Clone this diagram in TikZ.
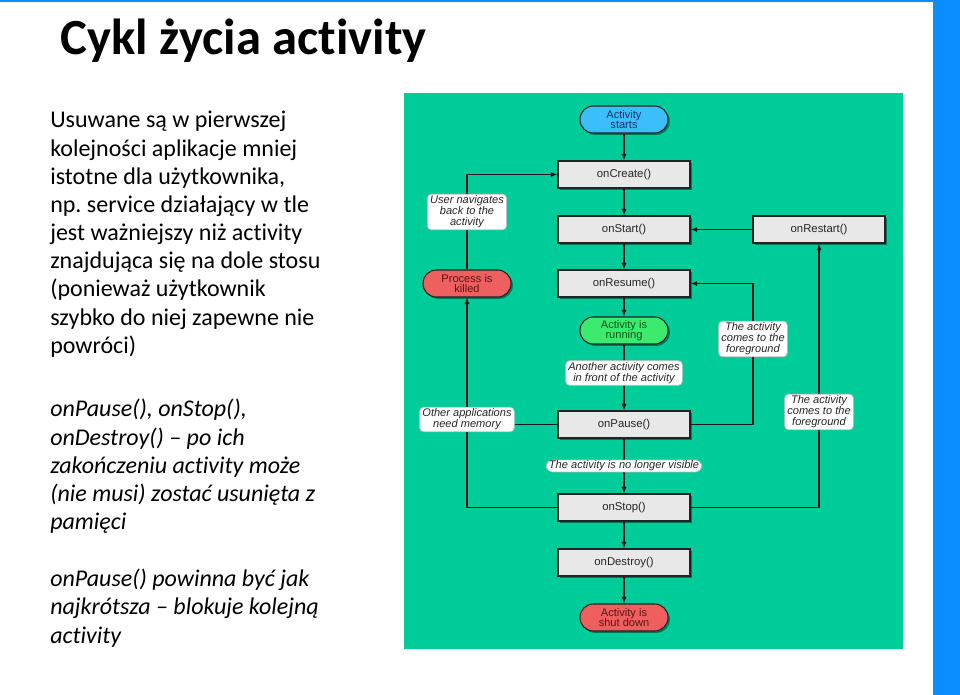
\documentclass[tikz,border=0pt]{standalone}
\usepackage{fontspec}
\setmainfont{Carlito}[Ligatures=NoCommon]
\newfontfamily\diag{Liberation Sans}
\usetikzlibrary{arrows.meta,shadows}
\definecolor{bgc}{RGB}{0,204,153}
\definecolor{bluebar}{RGB}{10,142,255}
\definecolor{startc}{RGB}{60,190,250}
\definecolor{runc}{RGB}{60,235,110}
\definecolor{killc}{RGB}{238,95,95}
\definecolor{boxc}{RGB}{232,232,232}
\definecolor{edgec}{RGB}{35,35,35}
\frenchspacing
\begin{document}
\begin{tikzpicture}[x=0.75pt,y=-0.75pt,
  shad/.style={drop shadow={shadow xshift=1.4pt,shadow yshift=-1.4pt,opacity=0.4,fill=black}},
  method/.style={shad,draw=edgec,line width=0.8pt,fill=boxc,minimum width=99pt,minimum height=20.25pt,inner sep=0pt,font=\diag\fontsize{8.5}{9}\selectfont,text=black!85},
  pill/.style={shad,draw=edgec,line width=0.8pt,minimum width=66pt,minimum height=20.25pt,rounded corners=10pt,inner sep=0pt,align=center,font=\diag\fontsize{8.3}{7.9}\selectfont},
  note/.style={draw=black!25,line width=0.5pt,fill=white,rounded corners=3pt,inner xsep=2pt,inner ysep=1.2pt,align=center,font=\diag\itshape\fontsize{8.3}{8.3}\selectfont,text=black!85},
  arr/.style={draw=black!90,line width=0.9pt,-{Latex[length=5pt,width=4pt]}},
  ln/.style={draw=black!90,line width=0.9pt},
  body/.style={anchor=base west,inner sep=0pt,font=\fontsize{18}{21.6}\selectfont}
]
\useasboundingbox (0,0) rectangle (960,695);
\fill[white] (0,0) rectangle (960,695);
\fill[bluebar] (0,0) rectangle (960,2);
\fill[bluebar] (933,0) rectangle (960,695);
\fill[bgc] (404,93) rectangle (903,649);

\node[anchor=base west,inner sep=0pt,font=\bfseries\fontsize{38}{46}\selectfont] (title) at (60,55) {Cykl życia activity};

\foreach \t [count=\i] in {{Usuwane są w pierwszej},{kolejności aplikacje mniej},{istotne dla użytkownika,},{np. service działający w tle},{jest ważniejszy niż activity},{znajdująca się na dole stosu},{(ponieważ użytkownik},{szybko do niej zapewne nie},{powróci)}}
  \node[body] (a\i) at (50,{128+(\i-1)*28.15}) {\t};
\foreach \t [count=\i] in {{onPause(), onStop(),},{onDestroy() – po ich},{zakończeniu activity może},{(nie musi) zostać usunięta z},{pamięci}}
  \node[body,font=\itshape\fontsize{18}{21.6}\selectfont] (b\i) at (50,{416.7+(\i-1)*28.3}) {\t};
\foreach \t [count=\i] in {{onPause() powinna być jak},{najkrótsza – blokuje kolejną},{activity}}
  \node[body,font=\itshape\fontsize{18}{21.6}\selectfont] (c\i) at (50,{416.7+(\i+5)*28.3}) {\t};

% diagram nodes
\node[pill,fill=startc,text={rgb,255:red,25;green,50;blue,100}] (starts) at (624,119.5) {Activity\\starts};
\node[method] (onCreate) at (624,174.5) {onCreate()};
\node[method] (onStart) at (624,229.5) {onStart()};
\node[method] (onRestart) at (819,229.5) {onRestart()};
\node[method] (onResume) at (624,283.5) {onResume()};
\node[pill,fill=runc,text={rgb,255:red,20;green,80;blue,30}] (running) at (624,330.5) {Activity is\\running};
\node[method] (onPause) at (624,424.5) {onPause()};
\node[method] (onStop) at (624,507.5) {onStop()};
\node[method] (onDestroy) at (624,562.5) {onDestroy()};
\node[pill,fill=killc,text={rgb,255:red,90;green,20;blue,20}] (shutdown) at (624,617.5) {Activity is\\shut down};
\node[pill,fill=killc,text={rgb,255:red,90;green,20;blue,20}] (killed) at (467,283.5) {Process is\\killed};
\coordinate (fgx) at (753,0);

% connectors
\draw[arr] (starts) -- (onCreate);
\draw[arr] (onCreate) -- (onStart);
\draw[arr] (onStart) -- (onResume);
\draw[arr] (onResume) -- (running);
\draw[arr] (running) -- (onPause);
\draw[arr] (onPause) -- (onStop);
\draw[arr] (onStop) -- (onDestroy);
\draw[arr] (onDestroy) -- (shutdown);
\draw[arr] (onRestart) -- (onStart);
\draw[arr] (onPause.east) -- (onPause.east -| fgx) -- (onResume.east -| fgx) -- (onResume.east);
\draw[arr] (onStop.east) -| (onRestart.south);
\draw[arr] (onStop.west) -| (killed.south);
\draw[ln] (onPause.west) -- (onPause.west -| killed.south);
\draw[arr] (killed.north) |- (onCreate.west);

% connector labels
\node[note] (nav) at (467,212) {User navigates\\back to the\\activity};
\node[note] (another) at (624,373) {Another activity comes\\in front of the activity};
\node[note] (mem) at (467,419.5) {Other applications\\need memory};
\node[note] (fg1) at (753,339) {The activity\\comes to the\\foreground};
\node[note] (fg2) at (819,412) {The activity\\comes to the\\foreground};
\node[note,rounded corners=5pt,inner ysep=0.6pt] (novis) at (624,466) {The activity is no longer visible};
\end{tikzpicture}
\end{document}
